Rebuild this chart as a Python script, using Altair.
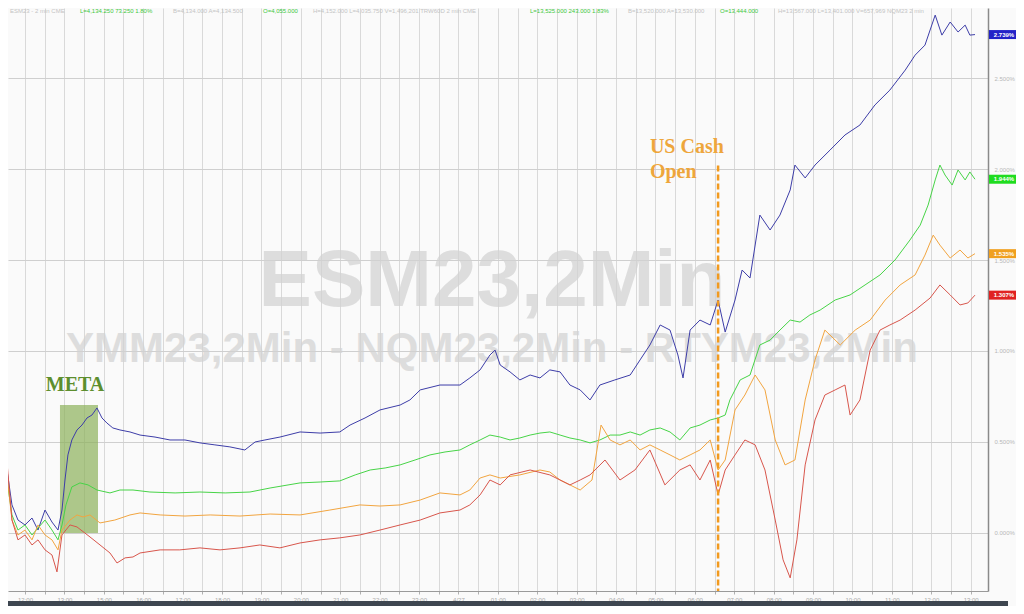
import json
import altair as alt
import pandas as pd

# ---------------- data (hours of session index, % change) ----------------
t_nq = [-0.457, -0.33, -0.178, 0.0, 0.178, 0.33, 0.508, 0.685, 0.838, 0.939, 1.015, 1.09, 1.19, 1.32, 1.447,
        1.574, 1.70, 1.827, 1.954, 2.08, 2.23, 2.41, 2.665, 2.92, 3.30, 3.68, 4.06, 4.44, 4.82, 5.20, 5.58,
        5.84, 6.09, 6.47, 6.98, 7.49, 7.99, 8.25, 8.63, 9.01, 9.52, 9.77, 10.03, 10.53, 11.04, 11.29, 11.55,
        11.80, 11.93, 12.06, 12.31, 12.56, 12.82, 13.07, 13.32, 13.58, 13.83, 14.09, 14.34, 14.59, 14.97,
        15.36, 15.61, 15.86, 16.12, 16.37, 16.57, 16.70, 16.88, 17.13, 17.39, 17.59, 17.77, 18.02, 18.20,
        18.40, 18.65, 18.91, 19.16, 19.42, 19.54, 19.80, 20.05, 20.43, 20.81, 21.19, 21.57, 21.95, 22.34,
        22.59, 22.84, 23.10, 23.27, 23.48, 23.68, 23.86, 23.98, 24.11]
v_nq = [0.346, 0.154, 0.071, 0.044, 0.082, 0.016, 0.126, 0.060, 0.016, 0.126, 0.291, 0.429, 0.511, 0.566, 0.593,
        0.632, 0.648, 0.687, 0.632, 0.604, 0.577, 0.566, 0.555, 0.538, 0.527, 0.511, 0.511, 0.495, 0.484, 0.473,
        0.456, 0.500, 0.511, 0.527, 0.555, 0.549, 0.555, 0.593, 0.632, 0.676, 0.703, 0.731, 0.786, 0.813, 0.813,
        0.852, 0.896, 0.978, 1.005, 0.923, 0.885, 0.841, 0.868, 0.852, 0.896, 0.885, 0.813, 0.786, 0.731, 0.813,
        0.841, 0.868, 0.951, 1.033, 1.143, 1.115, 0.978, 0.852, 1.115, 1.170, 1.143, 1.280, 1.104, 1.280, 1.445,
        1.401, 1.747, 1.665, 1.747, 1.885, 2.022, 1.951, 2.022, 2.104, 2.187, 2.242, 2.352, 2.434, 2.544,
        2.626, 2.681, 2.846, 2.736, 2.808, 2.753, 2.791, 2.736, 2.739]

t_es = [-0.457, -0.33, -0.178, 0.0, 0.178, 0.33, 0.508, 0.685, 0.838, 0.939, 1.04, 1.19, 1.396, 1.60, 1.827,
        2.157, 2.41, 2.741, 3.17, 3.81, 4.44, 5.08, 5.71, 6.22, 6.98, 7.49, 7.99, 8.38, 8.76, 9.14, 9.52, 9.90,
        10.28, 10.66, 11.04, 11.29, 11.55, 11.80, 12.06, 12.31, 12.56, 12.82, 13.07, 13.32, 13.58, 13.83,
        14.09, 14.34, 14.59, 14.85, 15.10, 15.36, 15.61, 15.86, 16.12, 16.37, 16.62, 16.88, 17.13, 17.39,
        17.59, 17.77, 17.89, 18.15, 18.40, 18.65, 18.91, 19.16, 19.42, 19.67, 19.92, 20.18, 20.56, 20.94,
        21.32, 21.70, 22.08, 22.46, 22.72, 22.92, 23.10, 23.22, 23.35, 23.53, 23.68, 23.86, 23.98, 24.11]
v_es = [0.291, 0.099, 0.016, 0.044, -0.011, 0.027, 0.071, 0.016, -0.038, 0.044, 0.154, 0.253, 0.275, 0.264,
        0.236, 0.220, 0.236, 0.236, 0.225, 0.220, 0.225, 0.220, 0.225, 0.247, 0.275, 0.280, 0.286, 0.319, 0.346,
        0.357, 0.374, 0.401, 0.429, 0.445, 0.456, 0.484, 0.511, 0.538, 0.527, 0.511, 0.522, 0.538, 0.549, 0.555,
        0.538, 0.522, 0.511, 0.495, 0.511, 0.538, 0.538, 0.555, 0.538, 0.566, 0.577, 0.555, 0.511, 0.577, 0.593,
        0.621, 0.632, 0.648, 0.731, 0.841, 0.868, 1.033, 1.060, 1.115, 1.170, 1.159, 1.198, 1.225, 1.280, 1.308,
        1.363, 1.418, 1.500, 1.610, 1.692, 1.802, 1.940, 2.022, 1.967, 1.912, 1.995, 1.940, 1.984, 1.944]

t_ym = [-0.457, -0.33, -0.178, 0.0, 0.178, 0.33, 0.508, 0.685, 0.838, 0.939, 1.142, 1.32, 1.472, 1.65, 1.904,
        2.28, 2.665, 2.92, 3.43, 4.06, 4.70, 5.457, 6.22, 6.98, 7.74, 8.50, 9.01, 9.52, 10.03, 10.53, 11.04,
        11.29, 11.55, 11.80, 12.06, 12.56, 13.07, 13.32, 13.58, 13.83, 14.09, 14.39, 14.62, 14.85, 15.10,
        15.36, 15.61, 15.86, 16.12, 16.37, 16.62, 16.88, 17.13, 17.39, 17.59, 17.77, 18.02, 18.27, 18.53,
        18.78, 19.04, 19.29, 19.54, 19.80, 20.05, 20.30, 20.69, 21.07, 21.45, 21.83, 22.21, 22.59, 22.84,
        23.05, 23.22, 23.48, 23.73, 23.93, 24.11]
v_ym = [0.319, 0.071, -0.011, 0.016, -0.038, 0.044, -0.011, -0.038, -0.093, 0.016, 0.071, 0.099, 0.088, 0.099,
        0.055, 0.071, 0.099, 0.110, 0.099, 0.093, 0.099, 0.093, 0.104, 0.099, 0.126, 0.154, 0.148, 0.154, 0.181,
        0.220, 0.209, 0.236, 0.302, 0.319, 0.302, 0.319, 0.346, 0.335, 0.291, 0.264, 0.236, 0.291, 0.593, 0.511,
        0.484, 0.511, 0.456, 0.484, 0.456, 0.429, 0.401, 0.429, 0.456, 0.511, 0.346, 0.401, 0.676, 0.758, 0.868,
        0.786, 0.511, 0.374, 0.401, 0.731, 0.951, 1.115, 1.033, 1.115, 1.170, 1.280, 1.363, 1.418, 1.527, 1.637,
        1.582, 1.511, 1.555, 1.511, 1.535]

t_rty = [-0.457, -0.33, -0.178, 0.0, 0.178, 0.33, 0.508, 0.685, 0.812, 0.939, 1.142, 1.32, 1.65, 1.904, 2.157,
         2.335, 2.54, 2.741, 2.92, 3.43, 3.93, 4.44, 4.95, 5.457, 5.96, 6.47, 6.98, 7.49, 7.99, 8.50, 9.01, 9.52,
         10.03, 10.53, 11.04, 11.29, 11.55, 11.80, 12.06, 12.31, 12.82, 13.32, 13.83, 14.09, 14.34, 14.72,
         15.10, 15.48, 15.86, 16.24, 16.62, 16.88, 17.13, 17.39, 17.59, 17.77, 18.02, 18.27, 18.53, 18.78,
         19.04, 19.24, 19.42, 19.59, 19.80, 20.05, 20.30, 20.56, 20.81, 20.94, 21.19, 21.45, 21.70, 21.95,
         22.21, 22.59, 22.97, 23.22, 23.48, 23.73, 23.93, 24.11]
v_rty = [0.390, 0.071, -0.038, -0.011, -0.066, -0.038, -0.093, -0.121, -0.214, -0.011, 0.044, 0.033, -0.022,
         -0.066, -0.110, -0.165, -0.137, -0.132, -0.110, -0.093, -0.093, -0.082, -0.093, -0.082, -0.066, -0.082,
         -0.055, -0.038, -0.027, -0.011, 0.016, 0.044, 0.071, 0.110, 0.126, 0.154, 0.209, 0.291, 0.264, 0.319,
         0.346, 0.319, 0.264, 0.291, 0.319, 0.401, 0.291, 0.346, 0.456, 0.264, 0.346, 0.374, 0.291, 0.401, 0.209,
         0.346, 0.429, 0.511, 0.484, 0.346, 0.071, -0.148, -0.247, -0.038, 0.374, 0.621, 0.758, 0.786, 0.813,
         0.648, 0.731, 1.005, 1.115, 1.143, 1.170, 1.225, 1.291, 1.363, 1.308, 1.253, 1.264, 1.307]

series_names = ["NQM23", "ESM23", "YMM23", "RTYM23"]
series_t = [t_nq, t_es, t_ym, t_rty]
series_v = [v_nq, v_es, v_ym, v_rty]
line_colors = ["#3d3da8", "#47d447", "#f2a540", "#d8564c"]
tag_colors = ["#2323c8", "#1fdc1f", "#f0a020", "#e02222"]

hour_labels = ["12:00", "13:00", "15:00", "16:00", "17:00", "18:00", "19:00", "20:00", "21:00", "22:00",
               "23:00", "4/27", "01:00", "02:00", "03:00", "04:00", "05:00", "06:00", "07:00", "08:00",
               "09:00", "10:00", "11:00", "12:00", "13:00"]
y_ticks = [0.0, 0.5, 1.0, 1.5, 2.0, 2.5]

meta_window = [0.888, 1.853]      # hours
meta_top = 0.703
cash_open_t = 17.59
cash_open_top = 2.02

header_text = ["ESM23 - 2 min  CME", "L=4,134.250   73.250   1.80%", "B=4,134.000   A=4,134.500",
               "O=4,055.000", "H=4,152.000   L=4,035.750   V=1,496,201   TRW60D   2 min   CME",
               "L=13,525.000   243.000   1.83%", "B=13,520.000   A=13,530.000", "O=13,444.000",
               "H=13,567.000   L=13,401.000   V=657,969   NQM23   2 min"]
header_green = [False, True, False, True, False, True, False, True, False]

# ---------------- tables ----------------
rows = []
for name, ts, vs, col in zip(series_names, series_t, series_v, line_colors):
    for t, v in zip(ts, vs):
        rows.append({"series": name, "t": t, "v": v, "col": col})
df = pd.DataFrame(rows)

tags = pd.DataFrame({
    "series": series_names,
    "t": [ts[-1] for ts in series_t],
    "v": [vs[-1] for vs in series_v],
    "label": [f"{vs[-1]:.3f}%" for vs in series_v],
    "col": tag_colors,
})

W, H = 980, 583
X_DOM = [-0.431, 24.44]
Y_DOM = [-0.319, 2.885]
xs = alt.Scale(domain=X_DOM, nice=False, zero=False)
ys = alt.Scale(domain=Y_DOM, nice=False, zero=False)

x_vals = [k * 0.5 for k in range(0, 49)]
label_expr = "datum.value % 1 == 0 ? " + json.dumps(hour_labels) + "[datum.value] : ''"

x_axis = alt.Axis(values=x_vals, labelExpr=label_expr, grid=True, gridColor="#d9d9d9", gridWidth=1,
                  domain=True, domainColor="#9a9a9a", tickColor="#b0b0b0", tickSize=3,
                  labelFontSize=6, labelColor="#a8a8a8", labelPadding=2, labelOverlap=False,
                  labelFlush=False, title=None)
y_axis = alt.Axis(orient="right", values=y_ticks, labelExpr="format(datum.value, '.3f') + '%'",
                  grid=True, gridColor="#cfcfcf", domain=True, domainColor="#8a8a8a", domainWidth=1.5,
                  ticks=False, labelFontSize=6, labelColor="#b8b8b8", labelPadding=6, title=None)


def X(field):
    return alt.X(field, scale=xs, axis=x_axis)


def Y(field):
    return alt.Y(field, scale=ys, axis=y_axis)


lines = alt.Chart(df).mark_line(strokeWidth=1.0, interpolate="linear").encode(
    x=X("t:Q"), y=Y("v:Q"),
    detail="series:N",
    color=alt.Color("col:N", scale=None),
    order=alt.Order("t:Q"),
)

# header row (decorative quote line)
hdr_px = [2, 72, 165, 255, 305, 522, 620, 712, 770]
header_layers = []
for txt, px, g in zip(header_text, hdr_px, header_green):
    header_layers.append(
        alt.Chart(pd.DataFrame({"text": [txt]})).mark_text(
            align="left", baseline="middle", fontSize=6, font="Liberation Sans",
            color="#3cc83c" if g else "#c4c4c4").encode(text="text:N", x=alt.value(px), y=alt.value(3))
    )

wm1 = alt.Chart(pd.DataFrame({"text": ["ESM23,2Min"]})).mark_text(
    fontSize=80, fontWeight="bold", font="Liberation Sans", color="#d2d2d2", opacity=0.7,
    align="center", baseline="middle").encode(text="text:N", x=alt.value(484), y=alt.value(274))
wm2 = alt.Chart(pd.DataFrame({"text": ["YMM23,2Min - NQM23,2Min - RTYM23,2Min"]})).mark_text(
    fontSize=42, fontWeight="bold", font="Liberation Sans", color="#d2d2d2", opacity=0.7,
    align="center", baseline="middle").encode(text="text:N", x=alt.value(484), y=alt.value(341))

meta_box = alt.Chart(pd.DataFrame({"t": [meta_window[0]], "t1": [meta_window[1]],
                                   "v": [0.0], "v1": [meta_top]})).mark_rect(
    color="#8cb05a", opacity=0.7).encode(x=X("t:Q"), x2="t1:Q", y=Y("v:Q"), y2="v1:Q")

cash_rule = alt.Chart(pd.DataFrame({"t": [cash_open_t], "v": [cash_open_top], "v1": [Y_DOM[0]]})).mark_rule(
    color="#f29a1e", strokeWidth=2.5, strokeDash=[6, 3]).encode(x=X("t:Q"), y=Y("v:Q"), y2="v1:Q")

meta_txt = alt.Chart(pd.DataFrame({"t": [1.27], "v": [0.815], "text": ["META"]})).mark_text(
    font="Liberation Serif", fontWeight="bold", fontSize=20, color="#5d8e2e", align="center",
    baseline="middle").encode(x=X("t:Q"), y=Y("v:Q"), text="text:N")
cash_txt = alt.Chart(pd.DataFrame({"t": [15.86, 15.86], "v": [2.121, 1.984],
                                   "text": ["US Cash", "Open"]})).mark_text(
    font="Liberation Serif", fontWeight="bold", fontSize=20, color="#eea63c", align="left",
    baseline="middle").encode(x=X("t:Q"), y=Y("v:Q"), text="text:N")

tag_box = alt.Chart(tags).mark_point(
    shape="M-1,-0.3L1,-0.3L1,0.3L-1,0.3Z", filled=True, size=900, opacity=1).encode(
    x=alt.value(W + 16), y=Y("v:Q"), color=alt.Color("col:N", scale=None))
tag_txt = alt.Chart(tags).mark_text(fontSize=6, fontWeight="bold", color="white",
                                    font="Liberation Sans").encode(
    x=alt.value(W + 16), y=Y("v:Q"), text="label:N")

bottom_bar = alt.Chart(pd.DataFrame({"k": [1]})).mark_rect(color="#3e4650").encode(
    x=alt.value(-8), x2=alt.value(W + 20), y=alt.value(H + 10), y2=alt.value(H + 15))

chart = alt.layer(
    *header_layers, wm1, wm2, meta_box, lines, cash_rule, meta_txt, cash_txt, tag_box, tag_txt, bottom_bar
).properties(
    width=W, height=H,
    autosize=alt.AutoSizeParams(type="none"),
    padding={"left": 0, "top": 0, "right": 28, "bottom": 15},
    background="#fafafa",
).configure_view(stroke=None).configure_axis(labelFont="Liberation Sans")

chart.save("out.html", embed_options={"renderer": "svg", "actions": False})
